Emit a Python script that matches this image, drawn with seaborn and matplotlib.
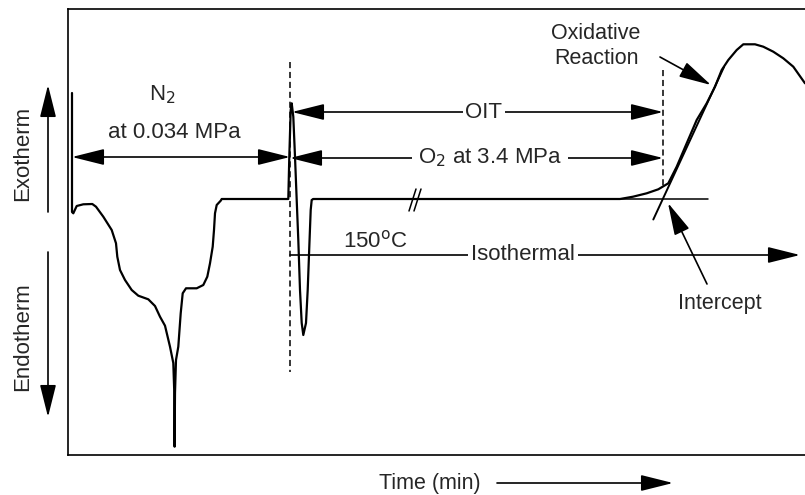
import seaborn as sns
import matplotlib.pyplot as plt
import numpy as np

# DSC trace (x = time position, y = signal, image units, y grows downward)
curve_x = [72, 72, 73.3, 76.7, 83.3, 92.3, 96, 103.3, 111.7, 116, 117.3, 120, 125, 131.7,
           138.3, 148.3, 155, 160, 165, 170, 173.3, 174.3, 174.6, 175, 176, 178.3, 180.7,
           182.7, 186, 196.7, 203.3, 207.3, 210, 212.7, 214, 215, 216.7, 220.7, 221.7, 288.3,
           289.3, 290.7, 291.7, 293.3, 295, 296.7, 298.3, 300, 301.7, 303.3, 306, 307.7,
           309.3, 310.7, 311.7, 313.3, 620, 633, 646.7, 658.3, 668.3, 676.7, 686.7, 696.7,
           706.7, 715, 721.7, 728.3, 736.7, 743.3, 755, 763.3, 773.3, 783.3, 793.3, 805]
curve_y = [93, 212, 213.3, 206, 204.3, 204, 206.7, 216.7, 230, 243.3, 256.7, 270, 280, 290,
           295.7, 299.3, 306, 316.7, 325.7, 346.7, 363, 393, 446.7, 393, 360, 346.7, 313.3,
           293.3, 288.3, 288.3, 285, 276.7, 263.3, 246.7, 230, 213.3, 205, 200.7, 199, 199,
           156.7, 110, 103.3, 116.7, 156.7, 200, 240, 290, 323, 335, 323, 290,
           246.7, 210, 200, 199, 199, 196.7, 193.3, 189.3, 183.3, 166.7, 143.3, 120,
           103.3, 86.7, 70, 60, 50, 44.3, 44.3, 46.7, 51.7, 58.3, 66.7, 83.3]

# extrapolated baseline and onset tangent
baseline_x = [313.3, 708]
baseline_y = [199, 199]
tangent_x = [653.3, 724]
tangent_y = [219.5, 67]

# dashed markers: gas switch and onset of oxidation
switch_x, switch_y = [290, 290], [62, 372]
onset_x, onset_y = [663.3, 663.3], [70, 187]

W, H = 805, 495
fig = plt.figure(figsize=(W / 100, H / 100), dpi=100)
sns.set_style('white')
plt.rcParams['font.family'] = ['Liberation Sans', 'DejaVu Sans']

ax = fig.add_axes([68 / W, (H - 455) / H, (W - 68) / W, (455 - 9) / H])
sns.lineplot(x=curve_x, y=curve_y, sort=False, estimator=None, color='black', lw=1.6, ax=ax)
sns.lineplot(x=baseline_x, y=baseline_y, sort=False, estimator=None, color='black', lw=1.1, ax=ax)
sns.lineplot(x=tangent_x, y=tangent_y, sort=False, estimator=None, color='black', lw=1.4, ax=ax)
for xs, ys in [(switch_x, switch_y), (onset_x, onset_y)]:
    ax.plot(xs, ys, color='black', lw=1.1, ls=(0, (4, 2.5)))

# "//" break mark on the long isothermal baseline
for dx in (0, 5):
    ax.plot([409 + dx, 416 + dx], [211, 189], color='black', lw=1.1)

ax.set_xlim(68, W)
ax.set_ylim(455, 9)
ax.set_xticks([])
ax.set_yticks([])
for side in ['left', 'top', 'bottom']:
    ax.spines[side].set_linewidth(1.2)
    ax.spines[side].set_color('black')
ax.spines['right'].set_visible(False)

fs = 16
head = dict(color='black', lw=1.2, shrinkA=0, shrinkB=0, mutation_scale=25)


def arrow(x0, y0, x1, y1, style='-|>,head_length=0.8,head_width=0.2'):
    ax.annotate('', xy=(x1, y1), xytext=(x0, y0), annotation_clip=False,
                arrowprops=dict(arrowstyle=style, **head))


both = '<|-|>,head_length=0.8,head_width=0.2'
white = dict(facecolor='white', edgecolor='none', pad=2)

# N2 segment
arrow(72, 157, 290, 157, both)
ax.text(162, 95, 'N$_2$', fontsize=fs, ha='center', va='center')
ax.text(174, 133, 'at 0.034 MPa', fontsize=fs, ha='center', va='center')

# OIT and O2 segments
arrow(292, 112, 663, 112, both)
ax.text(484, 112, 'OIT', fontsize=fs, ha='center', va='center', bbox=white)
arrow(290, 158, 663, 158, both)
ax.text(490, 158, 'O$_2$ at 3.4 MPa', fontsize=fs, ha='center', va='center',
        bbox=dict(facecolor='white', edgecolor='none', pad=4))

# isothermal
arrow(290, 255, 800, 255)
ax.text(523, 255, 'Isothermal', fontsize=fs, ha='center', va='center', bbox=white)
ax.text(375, 241, '150$^{\\mathrm{o}}$C', fontsize=fs, ha='center', va='center')

# oxidative reaction and intercept
ax.text(596, 46, 'Oxidative\nReaction', fontsize=fs - 0.5, ha='center', va='center',
        linespacing=1.3)
arrow(660, 57, 711, 85)
ax.text(720, 303, 'Intercept', fontsize=fs - 0.5, ha='center', va='center')
arrow(707, 284, 668, 203)

# y direction labels
ax.text(23, 153, 'Exotherm', fontsize=fs, rotation=90, ha='center', va='center', clip_on=False)
arrow(48, 212, 48, 85)
ax.text(23, 337, 'Endotherm', fontsize=fs, rotation=90, ha='center', va='center', clip_on=False)
arrow(48, 252, 48, 417)

# time axis
ax.text(430, 483, 'Time (min)', fontsize=fs - 0.5, ha='center', va='center', clip_on=False)
arrow(497, 483, 673, 483)

fig.savefig('out.png', dpi=100)
